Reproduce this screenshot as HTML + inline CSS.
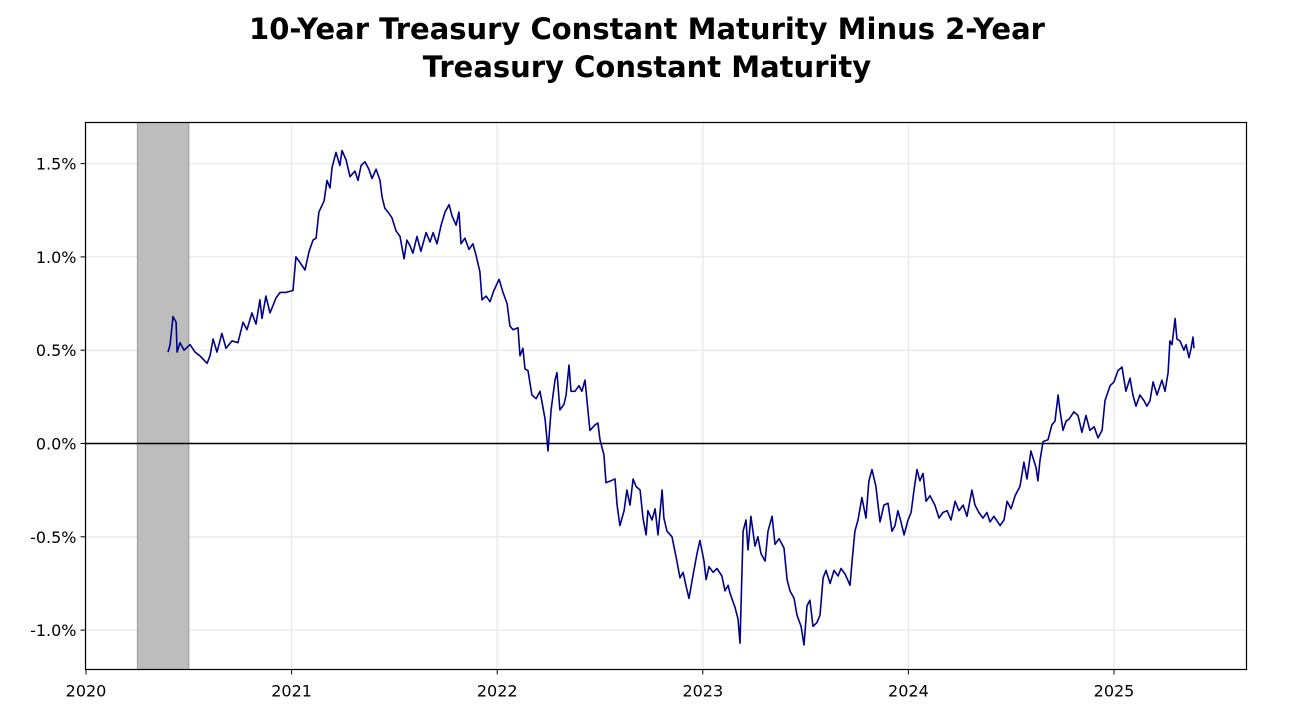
<!DOCTYPE html>
<html><head><meta charset="utf-8"><style>
body{margin:0;background:#fff;}
svg{display:block;font-family:"DejaVu Sans","Liberation Sans",sans-serif;}
</style></head><body>
<svg id="chart" width="1297" height="705" viewBox="0 0 1297 705" xmlns="http://www.w3.org/2000/svg">
<rect x="0" y="0" width="1297" height="705" fill="#fff"/>
<text x="647" y="39" text-anchor="middle" font-size="29" font-weight="bold">10-Year Treasury Constant Maturity Minus 2-Year</text>
<text x="647" y="77" text-anchor="middle" font-size="29" font-weight="bold">Treasury Constant Maturity</text>
<g id="grid"></g>
<g id="shade"></g>
<line id="zero" stroke="#000" stroke-width="1.6"/>
<path id="series" fill="none" stroke="#00008b" stroke-width="1.6" stroke-linejoin="round"/>
<rect x="85.5" y="122.5" width="1161" height="547" fill="none" stroke="#000" stroke-width="1.2"/>
<g id="yaxis"></g>
<g id="xaxis"></g>
</svg>
<script>
const yTicks = [1.5, 1.0, 0.5, 0.0, -0.5, -1.0];
const yTickLabels = ["1.5%", "1.0%", "0.5%", "0.0%", "-0.5%", "-1.0%"];
const xTicks = [2020, 2021, 2022, 2023, 2024, 2025];
const xTickLabels = ["2020", "2021", "2022", "2023", "2024", "2025"];
const recession = [2020.25, 2020.5];
const dates = [2020.399,2020.409,2020.423,2020.438,2020.443,2020.457,2020.477,2020.506,2020.530,2020.554,2020.589,2020.603,2020.618,2020.637,2020.661,2020.681,2020.710,2020.739,2020.764,2020.783,2020.807,2020.827,2020.846,2020.856,2020.875,2020.895,2020.924,2020.944,2020.973,2021.007,2021.021,2021.041,2021.065,2021.085,2021.104,2021.119,2021.133,2021.158,2021.172,2021.187,2021.197,2021.216,2021.235,2021.245,2021.265,2021.284,2021.308,2021.323,2021.338,2021.357,2021.376,2021.391,2021.411,2021.430,2021.440,2021.454,2021.469,2021.488,2021.508,2021.527,2021.547,2021.561,2021.576,2021.590,2021.610,2021.629,2021.654,2021.673,2021.688,2021.707,2021.727,2021.746,2021.766,2021.780,2021.800,2021.814,2021.824,2021.843,2021.863,2021.882,2021.897,2021.916,2021.926,2021.946,2021.965,2021.984,2022.009,2022.028,2022.048,2022.062,2022.077,2022.101,2022.111,2022.125,2022.135,2022.150,2022.169,2022.189,2022.208,2022.233,2022.247,2022.262,2022.281,2022.291,2022.305,2022.325,2022.335,2022.349,2022.359,2022.378,2022.398,2022.412,2022.427,2022.437,2022.451,2022.476,2022.490,2022.500,2022.519,2022.529,2022.553,2022.573,2022.583,2022.597,2022.617,2022.631,2022.646,2022.661,2022.675,2022.695,2022.709,2022.724,2022.733,2022.753,2022.768,2022.782,2022.802,2022.811,2022.826,2022.850,2022.874,2022.889,2022.904,2022.918,2022.933,2022.952,2022.972,2022.986,2023.006,2023.016,2023.030,2023.050,2023.069,2023.093,2023.108,2023.123,2023.132,2023.157,2023.171,2023.181,2023.196,2023.210,2023.220,2023.234,2023.254,2023.268,2023.283,2023.303,2023.317,2023.337,2023.351,2023.371,2023.395,2023.410,2023.424,2023.444,2023.458,2023.478,2023.492,2023.507,2023.521,2023.536,2023.555,2023.570,2023.585,2023.599,2023.619,2023.638,2023.658,2023.672,2023.692,2023.716,2023.726,2023.740,2023.755,2023.774,2023.794,2023.808,2023.823,2023.842,2023.862,2023.881,2023.901,2023.920,2023.935,2023.949,2023.964,2023.979,2023.998,2024.013,2024.027,2024.042,2024.056,2024.071,2024.086,2024.105,2024.129,2024.149,2024.168,2024.188,2024.207,2024.227,2024.246,2024.266,2024.285,2024.309,2024.324,2024.343,2024.363,2024.382,2024.397,2024.416,2024.446,2024.465,2024.480,2024.499,2024.519,2024.543,2024.562,2024.577,2024.596,2024.621,2024.630,2024.640,2024.655,2024.679,2024.698,2024.713,2024.728,2024.737,2024.752,2024.767,2024.781,2024.805,2024.825,2024.844,2024.864,2024.883,2024.903,2024.922,2024.942,2024.956,2024.981,2025.000,2025.019,2025.039,2025.058,2025.078,2025.092,2025.107,2025.126,2025.146,2025.160,2025.175,2025.190,2025.209,2025.233,2025.248,2025.263,2025.272,2025.282,2025.297,2025.306,2025.321,2025.340,2025.350,2025.365,2025.375,2025.384,2025.389];
const spread = [0.49,0.53,0.68,0.65,0.49,0.54,0.50,0.53,0.49,0.47,0.43,0.47,0.56,0.49,0.59,0.51,0.55,0.54,0.65,0.61,0.70,0.64,0.77,0.67,0.79,0.70,0.78,0.81,0.81,0.82,1.00,0.97,0.93,1.03,1.09,1.10,1.24,1.30,1.41,1.37,1.48,1.56,1.49,1.57,1.52,1.43,1.46,1.41,1.49,1.51,1.47,1.42,1.47,1.41,1.32,1.26,1.24,1.21,1.14,1.11,0.99,1.09,1.06,1.02,1.11,1.03,1.13,1.08,1.13,1.07,1.17,1.24,1.28,1.22,1.17,1.24,1.07,1.10,1.04,1.07,1.01,0.92,0.77,0.79,0.76,0.82,0.88,0.81,0.75,0.63,0.61,0.62,0.47,0.51,0.40,0.39,0.26,0.24,0.28,0.13,-0.04,0.18,0.34,0.38,0.18,0.21,0.26,0.42,0.28,0.28,0.31,0.28,0.34,0.23,0.07,0.10,0.11,0.02,-0.06,-0.21,-0.20,-0.19,-0.33,-0.44,-0.36,-0.25,-0.33,-0.19,-0.23,-0.25,-0.40,-0.49,-0.36,-0.41,-0.35,-0.49,-0.25,-0.40,-0.47,-0.50,-0.63,-0.72,-0.69,-0.76,-0.83,-0.71,-0.59,-0.52,-0.63,-0.73,-0.66,-0.69,-0.67,-0.71,-0.79,-0.76,-0.80,-0.88,-0.94,-1.07,-0.47,-0.41,-0.57,-0.39,-0.55,-0.50,-0.59,-0.63,-0.47,-0.39,-0.54,-0.51,-0.56,-0.73,-0.79,-0.83,-0.92,-0.98,-1.08,-0.87,-0.84,-0.98,-0.96,-0.92,-0.72,-0.68,-0.75,-0.68,-0.71,-0.67,-0.70,-0.76,-0.63,-0.47,-0.41,-0.29,-0.40,-0.20,-0.14,-0.23,-0.42,-0.33,-0.32,-0.47,-0.44,-0.36,-0.42,-0.49,-0.41,-0.37,-0.25,-0.14,-0.20,-0.16,-0.31,-0.28,-0.33,-0.40,-0.37,-0.36,-0.41,-0.31,-0.36,-0.33,-0.39,-0.25,-0.33,-0.37,-0.40,-0.37,-0.42,-0.39,-0.44,-0.41,-0.31,-0.35,-0.28,-0.23,-0.10,-0.19,-0.04,-0.13,-0.20,-0.09,0.01,0.02,0.10,0.12,0.26,0.18,0.07,0.12,0.13,0.17,0.15,0.06,0.15,0.07,0.09,0.03,0.07,0.23,0.31,0.33,0.39,0.41,0.28,0.35,0.26,0.20,0.26,0.23,0.20,0.23,0.33,0.26,0.34,0.28,0.38,0.55,0.53,0.67,0.56,0.55,0.50,0.53,0.46,0.51,0.57,0.51];

const NS = "http://www.w3.org/2000/svg";
const L = 85.5, R = 1246.5, T = 122.5, B = 669.5;
function xScale(t){ return 86 + (t - 2020) * 205.6; }
function yScale(v){ return 443.5 - v * 186.6; }

const grid = document.getElementById('grid');
const yaxis = document.getElementById('yaxis');
const xaxis = document.getElementById('xaxis');
yTicks.forEach((v, i) => {
  const y = yScale(v);
  const g = document.createElementNS(NS, 'line');
  g.setAttribute('x1', L); g.setAttribute('x2', R); g.setAttribute('y1', y); g.setAttribute('y2', y);
  g.setAttribute('stroke', '#ebebeb'); g.setAttribute('stroke-width', '1.5');
  
  
  grid.appendChild(g);
  const tk = document.createElementNS(NS, 'line');
  tk.setAttribute('x1', L - 5); tk.setAttribute('x2', L); tk.setAttribute('y1', y); tk.setAttribute('y2', y);
  tk.setAttribute('stroke', '#000');
  
  
  yaxis.appendChild(tk);
  const tx = document.createElementNS(NS, 'text');
  tx.setAttribute('x', L - 9); tx.setAttribute('y', y + 6);
  tx.setAttribute('text-anchor', 'end'); tx.setAttribute('font-size', '16');
  tx.textContent = yTickLabels[i];
  
  
  yaxis.appendChild(tx);
});
xTicks.forEach((t, i) => {
  const x = xScale(t);
  const g = document.createElementNS(NS, 'line');
  g.setAttribute('x1', x); g.setAttribute('x2', x); g.setAttribute('y1', T); g.setAttribute('y2', B);
  g.setAttribute('stroke', '#ebebeb'); g.setAttribute('stroke-width', '1.5');
  
  
  grid.appendChild(g);
  const tk = document.createElementNS(NS, 'line');
  tk.setAttribute('x1', x); tk.setAttribute('x2', x); tk.setAttribute('y1', B); tk.setAttribute('y2', B + 5);
  tk.setAttribute('stroke', '#000');
  
  
  xaxis.appendChild(tk);
  const tx = document.createElementNS(NS, 'text');
  tx.setAttribute('x', x); tx.setAttribute('y', B + 27);
  tx.setAttribute('text-anchor', 'middle'); tx.setAttribute('font-size', '16');
  tx.textContent = xTickLabels[i];
  
  
  xaxis.appendChild(tx);
});
const sh = document.createElementNS(NS, 'rect');
sh.setAttribute('x', xScale(recession[0])); sh.setAttribute('width', xScale(recession[1]) - xScale(recession[0]));
sh.setAttribute('y', T); sh.setAttribute('height', B - T);
sh.setAttribute('fill', '#bdbdbd'); sh.setAttribute('stroke', '#999'); sh.setAttribute('stroke-width', '1');


document.getElementById('shade').appendChild(sh);
const z = document.getElementById('zero');
z.setAttribute('x1', L); z.setAttribute('x2', R); z.setAttribute('y1', yScale(0)); z.setAttribute('y2', yScale(0));
let d = '';
dates.forEach((t, i) => { d += (i ? 'L' : 'M') + xScale(t).toFixed(1) + ',' + yScale(spread[i]).toFixed(1); });
document.getElementById('series').setAttribute('d', d);
</script>
</body></html>
